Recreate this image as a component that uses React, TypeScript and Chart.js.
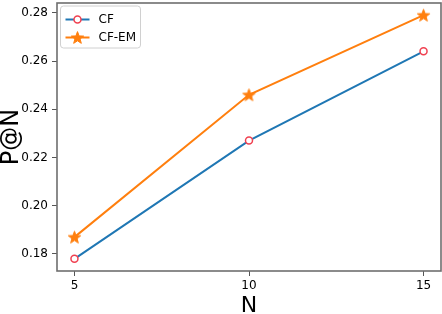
import React, { useEffect, useRef } from "react";
import { Chart, registerables } from "chart.js";

Chart.register(...registerables);

const nValues = [5, 10, 15];
const cfValues = [0.178, 0.227, 0.264];
const cfemValues = [0.187, 0.246, 0.279];
const yTickValues = [0.18, 0.2, 0.22, 0.24, 0.26, 0.28];
const xTickValues = [5, 10, 15];
const seriesLabels = ["CF", "CF-EM"];

const BLUE = "#1f77b4";
const ORANGE = "#ff7f0e";
const RED = "#f04050";
const FONT = "'DejaVu Sans', sans-serif";

function starPath(ctx: CanvasRenderingContext2D, cx: number, cy: number, R: number) {
  const r = R * 0.42;
  ctx.beginPath();
  for (let i = 0; i < 10; i++) {
    const rad = i % 2 === 0 ? R : r;
    const a = -Math.PI / 2 + (i * Math.PI) / 5;
    const x = cx + rad * Math.cos(a);
    const y = cy + rad * Math.sin(a);
    if (i === 0) ctx.moveTo(x, y);
    else ctx.lineTo(x, y);
  }
  ctx.closePath();
}

function makeStar(R: number): HTMLCanvasElement {
  const c = document.createElement("canvas");
  const s = Math.ceil(R * 2 + 2);
  c.width = s;
  c.height = s;
  const ctx = c.getContext("2d")!;
  ctx.fillStyle = ORANGE;
  ctx.strokeStyle = ORANGE;
  ctx.lineWidth = 1;
  starPath(ctx, s / 2, s / 2 + 0.6, R);
  ctx.fill();
  ctx.stroke();
  return c;
}

export default function App() {
  const ref = useRef<HTMLCanvasElement | null>(null);

  useEffect(() => {
    const star = makeStar(6.5);
    const framePlugin = {
      id: "frameLegend",
      afterDraw(chart: any) {
        const { ctx, chartArea } = chart;
        ctx.save();
        ctx.strokeStyle = "#6e6e6e";
        ctx.lineWidth = 1.6;
        ctx.strokeRect(chartArea.left, chartArea.top, chartArea.right - chartArea.left, chartArea.bottom - chartArea.top);

        // legend
        const bx = chartArea.left + 3.5;
        const by = chartArea.top + 3;
        const bw = 80;
        const bh = 42;
        ctx.fillStyle = "rgba(255,255,255,0.85)";
        ctx.strokeStyle = "#d0d0d0";
        ctx.lineWidth = 1;
        ctx.beginPath();
        (ctx as any).roundRect(bx, by, bw, bh, 3);
        ctx.fill();
        ctx.stroke();

        const rows = [by + 13.5, by + 31.5];
        // CF
        ctx.strokeStyle = BLUE;
        ctx.lineWidth = 2;
        ctx.beginPath();
        ctx.moveTo(bx + 5, rows[0]);
        ctx.lineTo(bx + 29, rows[0]);
        ctx.stroke();
        ctx.fillStyle = "#ffffff";
        ctx.strokeStyle = RED;
        ctx.lineWidth = 1.5;
        ctx.beginPath();
        ctx.arc(bx + 17, rows[0], 3.5, 0, Math.PI * 2);
        ctx.fill();
        ctx.stroke();
        // CF-EM
        ctx.strokeStyle = ORANGE;
        ctx.lineWidth = 2;
        ctx.beginPath();
        ctx.moveTo(bx + 5, rows[1]);
        ctx.lineTo(bx + 29, rows[1]);
        ctx.stroke();
        ctx.fillStyle = ORANGE;
        ctx.strokeStyle = ORANGE;
        ctx.lineWidth = 1;
        starPath(ctx, bx + 17, rows[1] + 0.6, 6.5);
        ctx.fill();
        ctx.stroke();

        ctx.fillStyle = "#000";
        ctx.font = `12px ${FONT}`;
        ctx.textBaseline = "middle";
        ctx.textAlign = "left";
        ctx.fillText(seriesLabels[0], bx + 38, rows[0]);
        ctx.fillText(seriesLabels[1], bx + 38, rows[1]);
        ctx.restore();
      },
    };

    const chart = new Chart(ref.current!, {
      type: "line",
      data: {
        datasets: [
          {
            label: seriesLabels[0],
            data: nValues.map((n, i) => ({ x: n, y: cfValues[i] })),
            borderColor: BLUE,
            borderWidth: 2,
            pointStyle: "circle",
            pointRadius: 3.5,
            pointBorderWidth: 1.5,
            pointBorderColor: RED,
            pointBackgroundColor: "#ffffff",
            tension: 0,
          },
          {
            label: seriesLabels[1],
            data: nValues.map((n, i) => ({ x: n, y: cfemValues[i] })),
            borderColor: ORANGE,
            borderWidth: 2,
            pointStyle: star as any,
            pointRadius: 7,
            tension: 0,
          },
        ],
      },
      options: {
        animation: false,
        responsive: false,
        devicePixelRatio: 1,
        layout: { autoPadding: false, padding: { left: 0, top: 3, right: 1, bottom: 0 } },
        plugins: { legend: { display: false }, tooltip: { enabled: false } },
        scales: {
          x: {
            type: "linear",
            min: 4.5,
            max: 15.5,
            afterBuildTicks: (s: any) => {
              s.ticks = xTickValues.map((v) => ({ value: v }));
            },
            afterFit: (s: any) => {
              s.height = 43;
              s.paddingLeft = 0;
              s.paddingRight = 0;
            },
            ticks: {
              color: "#000",
              font: { family: FONT, size: 12 },
              padding: 3,
              maxRotation: 0,
              callback: (v: any) => String(v),
            },
            grid: { display: true, drawOnChartArea: false, drawTicks: true, tickLength: 5, tickColor: "#555" },
            border: { display: false },
            title: {
              display: true,
              text: "N",
              color: "#000",
              font: { family: FONT, size: 22, lineHeight: 1 },
              padding: { top: 0, bottom: -3 },
            },
          },
          y: {
            type: "linear",
            min: 0.17295,
            max: 0.28405,
            afterBuildTicks: (s: any) => {
              s.ticks = yTickValues.map((v) => ({ value: v }));
            },
            afterFit: (s: any) => {
              s.width = 57;
              s.paddingTop = 0;
              s.paddingBottom = 0;
            },
            ticks: {
              color: "#000",
              font: { family: FONT, size: 12 },
              padding: 4,
              callback: (v: any) => Number(v).toFixed(2),
            },
            grid: { display: true, drawOnChartArea: false, drawTicks: true, tickLength: 5, tickColor: "#555" },
            border: { display: false },
            title: {
              display: true,
              text: "P@N",
              color: "#000",
              font: { family: FONT, size: 24, lineHeight: 1 },
              padding: { top: 0, bottom: 0 },
            },
          },
        },
      },
      plugins: [framePlugin],
    });
    return () => chart.destroy();
  }, []);

  return (
    <div style={{ position: "fixed", left: 0, top: 0, width: 442, height: 314, background: "#fff" }}>
      <canvas ref={ref} width={442} height={314} style={{ width: 442, height: 314 }} />
    </div>
  );
}
